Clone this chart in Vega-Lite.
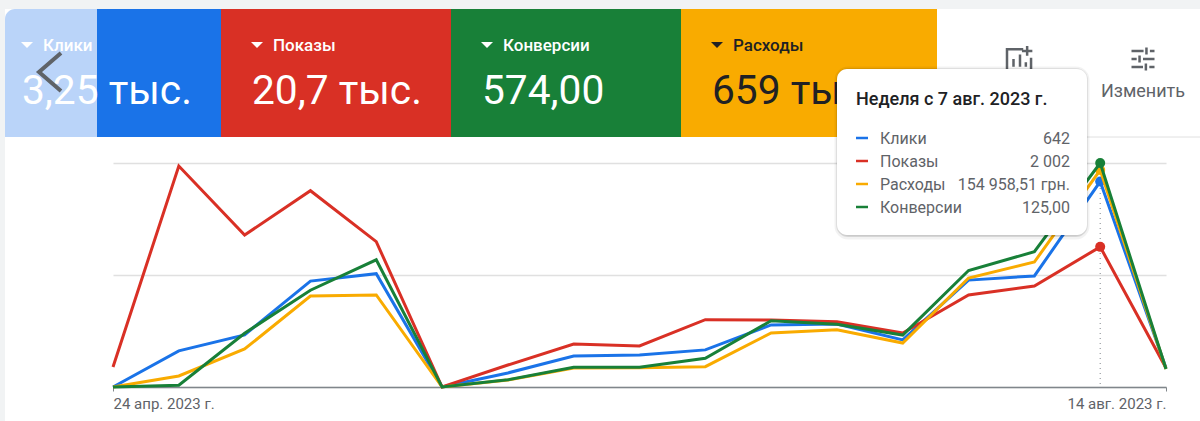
{
"$schema":"https://vega.github.io/schema/vega-lite/v6.json",
"width":1053,"height":224,
"autosize":{"type":"none"},
"padding":{"left":113,"top":163,"right":34,"bottom":34},
"background":"#ffffff",
"config":{"font":"Roboto","view":{"stroke":null}},
"datasets":{
"weekly":[
{"week":"2023-04-24","clicks":0,"impressions":286,"cost":0,"conversions":0,"hovered":false},
{"week":"2023-05-01","clicks":113,"impressions":3157,"cost":7857,"conversions":1,"hovered":false},
{"week":"2023-05-08","clicks":163,"impressions":2171,"cost":27143,"conversions":30,"hovered":false},
{"week":"2023-05-15","clicks":331,"impressions":2804,"cost":65000,"conversions":54,"hovered":false},
{"week":"2023-05-22","clicks":354,"impressions":2076,"cost":65714,"conversions":71,"hovered":false},
{"week":"2023-05-29","clicks":0,"impressions":0,"cost":0,"conversions":0,"hovered":false},
{"week":"2023-06-05","clicks":44,"impressions":314,"cost":5000,"conversions":4,"hovered":false},
{"week":"2023-06-12","clicks":97,"impressions":614,"cost":13571,"conversions":11,"hovered":false},
{"week":"2023-06-19","clicks":100,"impressions":586,"cost":13786,"conversions":11,"hovered":false},
{"week":"2023-06-26","clicks":116,"impressions":961,"cost":14500,"conversions":16,"hovered":false},
{"week":"2023-07-03","clicks":194,"impressions":957,"cost":38571,"conversions":37,"hovered":false},
{"week":"2023-07-10","clicks":197,"impressions":933,"cost":40929,"conversions":35,"hovered":false},
{"week":"2023-07-17","clicks":147,"impressions":771,"cost":31429,"conversions":29,"hovered":false},
{"week":"2023-07-24","clicks":334,"impressions":1314,"cost":77857,"conversions":65,"hovered":false},
{"week":"2023-07-31","clicks":347,"impressions":1443,"cost":89286,"conversions":75.5,"hovered":false},
{"week":"2023-08-07","clicks":642,"impressions":2002,"cost":154958.51,"conversions":125,"hovered":true},
{"week":"2023-08-14","clicks":59,"impressions":271,"cost":12857,"conversions":10,"hovered":false}
],
"cards":[
{"metric":"Клики","anchor":0,"start":4,"end":5,"total":"3,25 тыс."},
{"metric":"Показы","anchor":5,"start":5,"end":6,"total":"20,7 тыс."},
{"metric":"Конверсии","anchor":6,"start":6,"end":7,"total":"574,00"},
{"metric":"Расходы","anchor":7,"start":7,"end":8,"total":"659 тыс."}
],
"tooltip":[
{"metric":"Клики","row":2,"value":"642"},
{"metric":"Показы","row":3,"value":"2 002"},
{"metric":"Расходы","row":4,"value":"154 958,51 грн."},
{"metric":"Конверсии","row":5,"value":"125,00"}
],
"chrome":[{"title":"Неделя с 7 авг. 2023 г.","edit":"Изменить"}]
},
"resolve":{"scale":{"x":"independent","y":"independent","color":"independent","fill":"independent"},"axis":{"x":"independent","y":"independent"}},
"layer":[
{
"layer":[
{"data":{"name":"chrome"},"mark":{"type":"rect","color":"#f1f3f4"},
"encoding":{
"x":{"datum":1,"type":"quantitative","axis":null,"scale":{"domain":[0,1,2,3,4,5,6,7,8,9,10,11],"range":[-122,-113,-108,-63,-16,108,338,568,824,907,1030,1087]}},
"x2":{"datum":11},
"y":{"datum":0,"type":"quantitative","axis":null,"scale":{"domain":[0,1,2,3,4,5,6,7],"range":[-163,-154,-118,-104,-91,-72,-26,258]}},
"y2":{"datum":1}}},
{"data":{"name":"chrome"},"mark":{"type":"rect","color":"#f1f3f4"},
"encoding":{"x":{"datum":1,"type":"quantitative","axis":null},"x2":{"datum":2},"y":{"datum":0,"type":"quantitative","axis":null},"y2":{"datum":7}}},
{"data":{"name":"chrome"},"mark":{"type":"rect","color":"#bad4f9","cornerRadiusTopLeft":10},
"encoding":{"x":{"datum":2,"type":"quantitative","axis":null},"x2":{"datum":4},"y":{"datum":1,"type":"quantitative","axis":null},"y2":{"datum":6}}},
{"data":{"name":"cards"},"mark":{"type":"rect"},
"encoding":{"x":{"field":"start","type":"quantitative","axis":null},"x2":{"field":"end"},"y":{"datum":1,"type":"quantitative","axis":null},"y2":{"datum":6},
"fill":{"field":"metric","type":"nominal","legend":null,"scale":{"domain":["Клики","Показы","Конверсии","Расходы"],"range":["#1a73e8","#d93025","#188038","#f9ab00"]}}}},
{"data":{"name":"chrome"},"mark":{"type":"rule","color":"#e0e0e0","strokeWidth":1},
"encoding":{"x":{"datum":8,"type":"quantitative","axis":null},"x2":{"datum":11},"y":{"datum":6,"type":"quantitative","axis":null}}},
{"data":{"name":"cards"},"mark":{"type":"point","filled":true,"opacity":1,"size":144,"shape":"M-1 -0.5 L1 -0.5 L0 0.5 Z","xOffset":36},
"encoding":{"x":{"field":"anchor","type":"quantitative","axis":null},"y":{"datum":2,"type":"quantitative","axis":null},
"color":{"field":"metric","type":"nominal","legend":null,"scale":{"domain":["Клики","Показы","Конверсии","Расходы"],"range":["#ffffff","#ffffff","#ffffff","#202124"]}}}},
{"data":{"name":"cards"},"mark":{"type":"text","align":"left","baseline":"middle","dx":52,"dy":1,"fontSize":17,"fontWeight":500},
"encoding":{"x":{"field":"anchor","type":"quantitative","axis":null},"y":{"datum":2,"type":"quantitative","axis":null},"text":{"field":"metric"},
"color":{"field":"metric","type":"nominal","legend":null}}},
{"data":{"name":"cards"},"mark":{"type":"text","align":"left","baseline":"middle","dx":31,"dy":1,"fontSize":40.7},
"encoding":{"x":{"field":"anchor","type":"quantitative","axis":null},"y":{"datum":5,"type":"quantitative","axis":null},"text":{"field":"total"},
"color":{"field":"metric","type":"nominal","legend":null}}},
{"data":{"name":"chrome"},"mark":{"type":"point","filled":false,"opacity":1,"size":1600,"shape":"M0.55 -0.95 L-0.55 0 L0.55 0.95","color":"#5f6368","strokeWidth":4},
"encoding":{"x":{"datum":3,"type":"quantitative","axis":null},"y":{"datum":4,"type":"quantitative","axis":null}}},
{"data":{"name":"chrome"},"mark":{"type":"point","filled":false,"opacity":1,"size":676,"shape":"M0.25 -0.75 H-1 V1 H0.85 V-0.1 M-0.5 0.6 V0 M0 0.6 V-0.35 M0.45 0.6 V0.25 M0.55 -1 V-0.25 M0.15 -0.62 H0.95","color":"#5f6368","strokeWidth":2.5},
"encoding":{"x":{"datum":9,"type":"quantitative","axis":null},"y":{"datum":3,"type":"quantitative","axis":null}}},
{"data":{"name":"chrome"},"mark":{"type":"point","filled":false,"opacity":1,"size":529,"shape":"M-1 -0.7 H0.05 M0.6 -0.7 H1 M0.3 -1 V-0.4 M-1 0 H-0.55 M0 0 H1 M-0.3 -0.3 V0.3 M-1 0.7 H0 M0.55 0.7 H1 M0.25 0.4 V1","color":"#5f6368","strokeWidth":2.5},
"encoding":{"x":{"datum":10,"type":"quantitative","axis":null},"y":{"datum":3,"type":"quantitative","axis":null}}},
{"data":{"name":"chrome"},"mark":{"type":"text","align":"center","baseline":"middle","dy":1,"fontSize":18,"color":"#5f6368"},
"encoding":{"x":{"datum":10,"type":"quantitative","axis":null},"y":{"datum":5,"type":"quantitative","axis":null},"text":{"field":"edit"}}}
]
},
{
"data":{"name":"weekly"},
"encoding":{"x":{"field":"week","type":"temporal","scale":{"type":"utc"},"axis":{"title":null,"grid":false,"values":["2023-04-24","2023-08-14"],"labelExpr":"datum.index == 0 ? '24 апр. 2023 г.' : '14 авг. 2023 г.'","labelAlign":{"expr":"datum.index == 0 ? 'left' : 'right'"},"labelColor":"#5f6368","labelFontSize":15,"labelPadding":5,"labelBaseline":"top","domainColor":"#80868b","domainWidth":1.5,"tickColor":"#80868b","tickSize":4,"tickWidth":1}}},
"resolve":{"scale":{"y":"independent"},"axis":{"y":"independent"}},
"layer":[
{"transform":[{"filter":"datum.hovered"}],"mark":{"type":"rule","color":"#80868b","strokeDash":[1,4],"strokeWidth":1},"encoding":{}},
{"encoding":{"y":{"field":"clicks","type":"quantitative","scale":{"domain":[0,700]},"axis":{"title":null,"values":[0,350,700],"grid":true,"gridColor":"#e0e0e0","gridWidth":1.5,"labels":false,"ticks":false,"domain":false}},
"color":{"datum":"Клики","scale":{"domain":["Клики","Показы","Расходы","Конверсии"],"range":["#1a73e8","#d93025","#f9ab00","#188038"]},"legend":null}},
"layer":[{"mark":{"type":"line","strokeWidth":3}},{"transform":[{"filter":"datum.hovered"}],"mark":{"type":"point","filled":true,"opacity":1,"size":100}}]},
{"encoding":{"y":{"field":"impressions","type":"quantitative","scale":{"domain":[0,3200]},"axis":null},
"color":{"datum":"Показы","scale":{"domain":["Клики","Показы","Расходы","Конверсии"],"range":["#1a73e8","#d93025","#f9ab00","#188038"]},"legend":null}},
"layer":[{"mark":{"type":"line","strokeWidth":3}},{"transform":[{"filter":"datum.hovered"}],"mark":{"type":"point","filled":true,"opacity":1,"size":100}}]},
{"encoding":{"y":{"field":"cost","type":"quantitative","scale":{"domain":[0,160000]},"axis":null},
"color":{"datum":"Расходы","scale":{"domain":["Клики","Показы","Расходы","Конверсии"],"range":["#1a73e8","#d93025","#f9ab00","#188038"]},"legend":null}},
"layer":[{"mark":{"type":"line","strokeWidth":3}},{"transform":[{"filter":"datum.hovered"}],"mark":{"type":"point","filled":true,"opacity":1,"size":100}}]},
{"encoding":{"y":{"field":"conversions","type":"quantitative","scale":{"domain":[0,125]},"axis":null},
"color":{"datum":"Конверсии","scale":{"domain":["Клики","Показы","Расходы","Конверсии"],"range":["#1a73e8","#d93025","#f9ab00","#188038"]},"legend":null}},
"layer":[{"mark":{"type":"line","strokeWidth":3}},{"transform":[{"filter":"datum.hovered"}],"mark":{"type":"point","filled":true,"opacity":1,"size":100}}]}
]
},
{
"layer":[
{"data":{"name":"chrome"},"mark":{"type":"rect","color":"#000000","fillOpacity":0.04,"stroke":"#000000","strokeOpacity":0.05,"strokeWidth":5,"cornerRadius":11,"y2Offset":2},
"encoding":{
"x":{"datum":0,"type":"quantitative","axis":null,"scale":{"domain":[0,1,2,3,4,5],"range":[724,743,755,767,957,974]}},
"x2":{"datum":5},
"y":{"datum":0,"type":"quantitative","axis":null,"scale":{"domain":[0,1,2,3,4,5,6],"range":[-94,-63,-25,-2,21,44,72]}},
"y2":{"datum":6}}},
{"data":{"name":"chrome"},"mark":{"type":"rect","color":"#000000","fillOpacity":0.05,"stroke":"#000000","strokeOpacity":0.08,"strokeWidth":2,"cornerRadius":11,"y2Offset":1},
"encoding":{"x":{"datum":0,"type":"quantitative","axis":null},"x2":{"datum":5},"y":{"datum":0,"type":"quantitative","axis":null},"y2":{"datum":6}}},
{"data":{"name":"chrome"},"mark":{"type":"rect","color":"#ffffff","cornerRadius":10},
"encoding":{"x":{"datum":0,"type":"quantitative","axis":null},"x2":{"datum":5},"y":{"datum":0,"type":"quantitative","axis":null},"y2":{"datum":6}}},
{"data":{"name":"chrome"},"mark":{"type":"text","align":"left","baseline":"middle","fontSize":18,"fontWeight":500,"color":"#202124"},
"encoding":{"x":{"datum":1,"type":"quantitative","axis":null},"y":{"datum":1,"type":"quantitative","axis":null},"text":{"field":"title"}}},
{"data":{"name":"tooltip"},"mark":{"type":"rule","strokeWidth":2.5},
"encoding":{"x":{"datum":1,"type":"quantitative","axis":null},"x2":{"datum":2},"y":{"field":"row","type":"quantitative","axis":null},
"color":{"field":"metric","type":"nominal","legend":null,"scale":{"domain":["Клики","Показы","Расходы","Конверсии"],"range":["#1a73e8","#d93025","#f9ab00","#188038"]}}}},
{"data":{"name":"tooltip"},"mark":{"type":"text","align":"left","baseline":"middle","dy":1,"fontSize":16,"color":"#5f6368"},
"encoding":{"x":{"datum":3,"type":"quantitative","axis":null},"y":{"field":"row","type":"quantitative","axis":null},"text":{"field":"metric"}}},
{"data":{"name":"tooltip"},"mark":{"type":"text","align":"right","baseline":"middle","dy":1,"fontSize":16,"color":"#5f6368"},
"encoding":{"x":{"datum":4,"type":"quantitative","axis":null},"y":{"field":"row","type":"quantitative","axis":null},"text":{"field":"value"}}}
]
}
]
}
